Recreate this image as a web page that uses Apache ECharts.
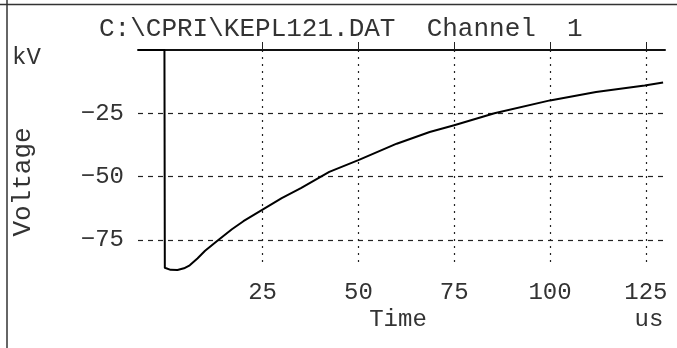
<!DOCTYPE html>
<html>
<head>
<meta charset="utf-8">
<script src="https://cdn.jsdelivr.net/npm/echarts@6/dist/echarts.min.js"></script>
<style>html,body{margin:0;padding:0;background:#fff}#c{width:677px;height:348px}</style>
</head>
<body>
<div id="c"></div>
<script>
var titleText = 'C:\\CPRI\\KEPL121.DAT  Channel  1';
var xTicks = [25, 50, 75, 100, 125];
var yTicks = [-75, -50, -25];
var timeUs = [-7.5, -0.6, -0.5, 1, 2.8, 4.5, 6, 8, 10, 13.3, 17, 20, 25, 30, 35, 42.4, 50, 60, 68.6, 75, 85.5, 100, 112, 124.7, 129.5];
var voltageKv = [0, 0, -86, -86.8, -86.9, -86.2, -85, -82.3, -79.3, -75.2, -70.8, -67.6, -63, -58.5, -54.5, -48.1, -43.5, -37, -32.4, -29.7, -25, -19.9, -16.6, -14, -12.8];

var FONT = '"Liberation Mono", "DejaVu Sans Mono", monospace';
var INK = '#333';
var chart = echarts.init(document.getElementById('c'));
var pts = timeUs.map(function (t, i) { return [t, voltageKv[i]]; });

chart.setOption({
  animation: false,
  backgroundColor: '#fff',
  grid: { left: 138, right: 12, top: 50, bottom: 84 },
  xAxis: [{
    type: 'value', position: 'bottom', min: -7.5, max: 130,
    axisLine: { show: false },
    axisTick: { show: false, customValues: xTicks },
    axisLabel: { customValues: xTicks, color: INK, fontFamily: FONT, fontSize: 24, margin: 17 },
    splitLine: { show: true, lineStyle: { color: '#222', width: 1.2, type: [2, 5] } }
  }, {
    type: 'value', position: 'top', min: -7.5, max: 130,
    axisLine: { show: true, onZero: false, lineStyle: { color: '#111', width: 2 } },
    axisTick: { show: true, inside: false, length: 8, customValues: xTicks, lineStyle: { color: '#222', width: 1 } },
    axisLabel: { show: false },
    splitLine: { show: false }
  }],
  yAxis: {
    type: 'value', min: -84.5, max: 0,
    axisLine: { show: false },
    axisTick: { show: false, customValues: yTicks },
    axisLabel: { customValues: yTicks, color: INK, fontFamily: FONT, fontSize: 24, margin: 14,
      formatter: function (v) { return String(v).replace('-', '\u2212'); } },
    splitLine: { show: true, lineStyle: { color: '#222', width: 1.2, type: [5, 5] } }
  },
  series: [{
    type: 'line', xAxisIndex: 0, data: pts, showSymbol: false, clip: false,
    lineStyle: { color: '#000', width: 2, join: 'round' }
  }],
  graphic: [
    { type: 'text', left: 99, top: 16, style: { text: titleText, fill: INK, font: '26px ' + FONT } },
    { type: 'text', x: 12, y: 58, style: { text: 'kV', fill: INK, font: '24px ' + FONT, verticalAlign: 'middle' } },
    { type: 'text', x: 23, y: 182, rotation: Math.PI / 2, style: { text: 'Voltage', fill: INK, font: '26px ' + FONT, align: 'center', verticalAlign: 'middle' } },
    { type: 'text', x: 398, y: 320, style: { text: 'Time', fill: INK, font: '24px ' + FONT, align: 'center', verticalAlign: 'middle' } },
    { type: 'text', x: 649, y: 320, style: { text: 'us', fill: INK, font: '24px ' + FONT, align: 'center', verticalAlign: 'middle' } },
    { type: 'line', shape: { x1: 0, y1: 4.5, x2: 677, y2: 4.5 }, style: { stroke: '#333', lineWidth: 1.5 } },
    { type: 'line', shape: { x1: 7, y1: 0, x2: 7, y2: 348 }, style: { stroke: '#333', lineWidth: 1.5 } }
  ]
});
</script>
</body>
</html>
